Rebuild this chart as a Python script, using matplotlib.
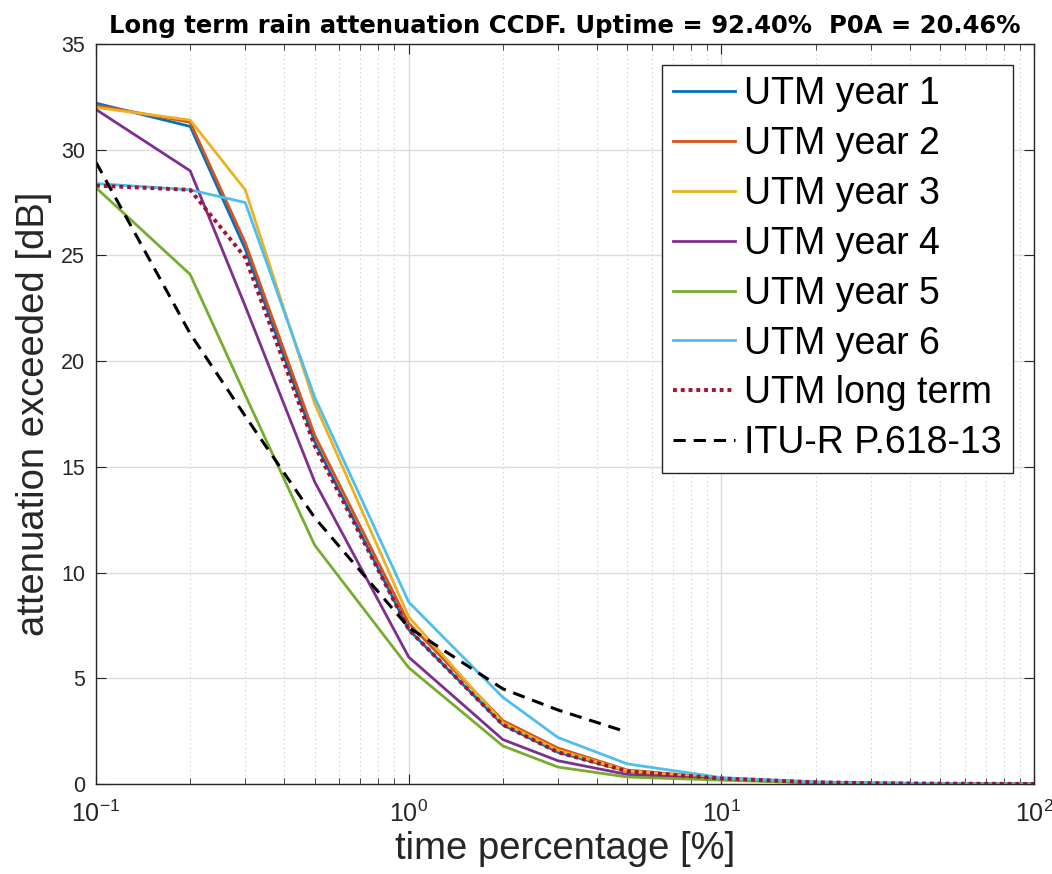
import numpy as np
import matplotlib
matplotlib.use("Agg")
import matplotlib.pyplot as plt
from matplotlib.ticker import LogLocator, NullFormatter, FixedLocator, FuncFormatter

plt.rcParams['font.family'] = ['Liberation Sans', 'DejaVu Sans']
plt.rcParams['axes.unicode_minus'] = False

# time percentages [%]
pct = [0.1, 0.2, 0.3, 0.5, 1, 2, 3, 5, 10, 20, 30, 50, 100]

# attenuation exceeded [dB]
year1 = [32.2, 31.1, 25.3, 16.2, 7.3, 2.8, 1.5, 0.60, 0.25, 0.08, 0.04, 0.02, 0.0]
year2 = [32.1, 31.3, 25.6, 16.5, 7.6, 3.0, 1.7, 0.66, 0.27, 0.08, 0.04, 0.02, 0.0]
year3 = [32.0, 31.4, 28.1, 18.0, 7.9, 2.9, 1.6, 0.62, 0.26, 0.08, 0.04, 0.02, 0.0]
year4 = [31.9, 29.0, 22.6, 14.3, 6.0, 2.1, 1.1, 0.45, 0.22, 0.06, 0.03, 0.01, 0.0]
year5 = [28.2, 24.1, 18.4, 11.3, 5.5, 1.8, 0.8, 0.33, 0.18, 0.05, 0.02, 0.01, 0.0]
year6 = [28.4, 28.1, 27.5, 18.3, 8.6, 4.1, 2.2, 0.95, 0.30, 0.10, 0.05, 0.02, 0.0]
long_term = [28.3, 28.1, 24.9, 16.0, 7.3, 2.8, 1.5, 0.60, 0.26, 0.08, 0.04, 0.02, 0.0]

itu_pct = [0.1, 0.2, 0.3, 0.5, 1, 2, 3, 5]
itu = [29.4, 21.3, 17.4, 12.6, 7.4, 4.5, 3.5, 2.45]

series = [
    ("UTM year 1", year1, "#0072BD"),
    ("UTM year 2", year2, "#D95319"),
    ("UTM year 3", year3, "#EDB120"),
    ("UTM year 4", year4, "#7E2F8E"),
    ("UTM year 5", year5, "#77AC30"),
    ("UTM year 6", year6, "#4DBEEE"),
]

fig = plt.figure(figsize=(10.52, 8.74), dpi=100)
ax = fig.add_axes([0.0913, 0.103, 0.8917, 0.8467])

for name, vals, col in series:
    ax.plot(pct, vals, color=col, lw=2.0, label=name)
ax.plot(pct, long_term, color="#A2142F", lw=2.8, ls=(0, (1, 1)), label="UTM long term")
ax.plot(itu_pct, itu, color="black", lw=2.2, ls=(0, (4, 2.6)), label="ITU-R P.618-13")

ax.set_xscale("log")
ax.set_xlim(0.1, 100)
ax.set_ylim(0, 35)
ax.yaxis.set_major_locator(FixedLocator(np.arange(0, 36, 5)))
ax.xaxis.set_major_locator(LogLocator(base=10, numticks=10))
ax.xaxis.set_major_formatter(FuncFormatter(
    lambda v, p: r"$\mathregular{10^{%d}}$" % int(round(np.log10(v)))))
ax.xaxis.set_minor_locator(LogLocator(base=10, subs=np.arange(2, 10), numticks=20))
ax.xaxis.set_minor_formatter(NullFormatter())

ax.grid(True, which="major", color="#dcdcdc", lw=1.0, ls="-")
ax.grid(True, which="minor", axis="x", color="#c8c8c8", lw=0.8, ls=(0, (1, 3)))
ax.set_axisbelow(True)

edge = "#262626"
for s in ax.spines.values():
    s.set_color(edge)
    s.set_linewidth(1.0)
ax.tick_params(which="both", direction="in", top=True, right=True, colors=edge)
ax.tick_params(which="major", length=7)
ax.tick_params(which="minor", length=4)
ax.tick_params(axis="y", labelsize=15.5, pad=8)
ax.tick_params(axis="x", which="both", labelsize=18, pad=12)

ax.set_xlabel("time percentage [%]", fontsize=27.5, color=edge, labelpad=3)
ax.set_ylabel("attenuation exceeded [dB]", fontsize=27.5, color=edge, labelpad=6)
ax.set_title("Long term rain attenuation CCDF. Uptime = 92.40%  P0A = 20.46%",
             fontsize=17.5, fontweight="bold", family=["DejaVu Sans"], pad=8)

leg = ax.legend(loc="upper right", fontsize=27, frameon=True, fancybox=False,
                edgecolor=edge, framealpha=1, handlelength=1.65, handletextpad=0.24,
                labelspacing=0.37, borderpad=0.3, borderaxespad=0.56)
leg.get_frame().set_linewidth(1.0)

fig.savefig("out.png", dpi=100)
